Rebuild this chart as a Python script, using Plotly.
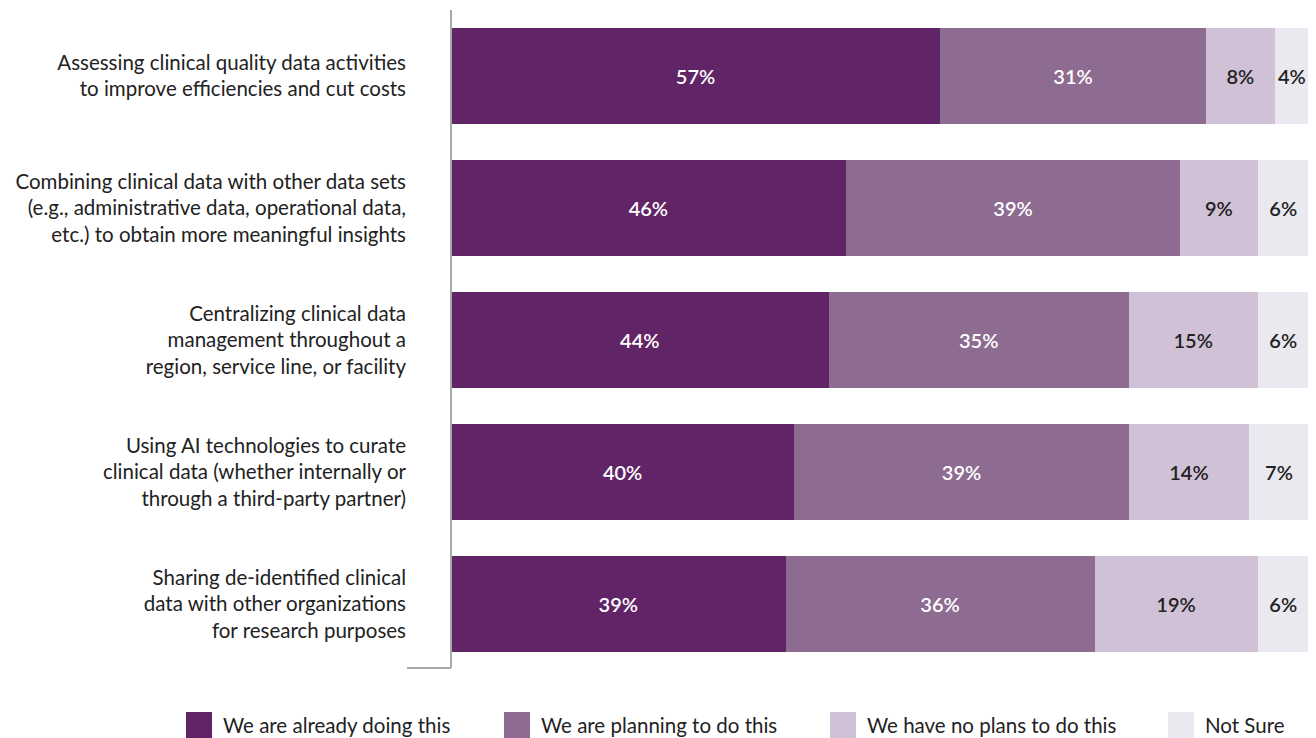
import plotly.graph_objects as go

categories = [
    "Assessing clinical quality data activities<br>to improve efficiencies and cut costs",
    "Combining clinical data with other data sets<br>(e.g., administrative data, operational data,<br>etc.) to obtain more meaningful insights",
    "Centralizing clinical data<br>management throughout a<br>region, service line, or facility",
    "Using AI technologies to curate<br>clinical data (whether internally or<br>through a third-party partner)",
    "Sharing de-identified clinical<br>data with other organizations<br>for research purposes",
]
series_names = [
    "We are already doing this",
    "We are planning to do this",
    "We have no plans to do this",
    "Not Sure",
]
already = [57, 46, 44, 40, 39]
planning = [31, 39, 35, 39, 36]
no_plans = [8, 9, 15, 14, 19]
not_sure = [4, 6, 6, 7, 6]

values = [already, planning, no_plans, not_sure]
colors = ["#612466", "#8e6b91", "#d1c1d6", "#ebe9f0"]
text_colors = ["#ffffff", "#ffffff", "#222222", "#222222"]

FONT = "Source Sans Pro, Lato, Noto Sans, sans-serif"

# page renders the figure with an 8px body margin -> work in shifted coords
OFF = 8
W, H = 1316 - OFF, 738 - OFF
L, R, T, B = 451 - OFF, 7, 10 - OFF, 68
PW, PH = W - L - R, H - T - B

def px_x(p):
    return (p - OFF - L) / PW

def px_y(p):
    return (H - B - (p - OFF)) / PH

fig = go.Figure()
for name, vals, col, tcol in zip(series_names, values, colors, text_colors):
    fig.add_trace(go.Bar(
        y=categories, x=vals, name=name, orientation="h",
        marker=dict(color=col, line=dict(width=0)),
        text=[f"{v}%" for v in vals],
        textposition="inside", insidetextanchor="middle",
        constraintext="none",
        textfont=dict(color=tcol, size=20, family=FONT, weight=600),
        showlegend=False, hoverinfo="skip",
    ))

shapes = [
    dict(type="line", xref="paper", yref="paper", x0=0, x1=0, y0=px_y(668), y1=px_y(10),
         line=dict(color="#a8a8a8", width=2)),
    dict(type="line", xref="paper", yref="paper", x0=px_x(407), x1=0, y0=px_y(668), y1=px_y(668),
         line=dict(color="#a8a8a8", width=2)),
]
annotations = []
legend_x = [186, 504, 830, 1168]
for name, col, lx in zip(series_names, colors, legend_x):
    shapes.append(dict(type="rect", xref="paper", yref="paper",
                       x0=px_x(lx), x1=px_x(lx + 26), y0=px_y(738), y1=px_y(712),
                       fillcolor=col, line=dict(width=0)))
    annotations.append(dict(xref="paper", yref="paper", x=px_x(lx + 35), y=px_y(725),
                            text=name, showarrow=False, xanchor="left", yanchor="middle",
                            font=dict(size=20.5, color="#222222", family=FONT)))

fig.update_layout(
    barmode="stack",
    bargap=0.28,
    width=W, height=H,
    margin=dict(l=L, r=R, t=T, b=B, autoexpand=False),
    plot_bgcolor="white", paper_bgcolor="white",
    font=dict(family=FONT, color="#222222"),
    xaxis=dict(range=[0, 100], visible=False),
    yaxis=dict(autorange="reversed", showline=False, showgrid=False, ticks="",
               ticklabelstandoff=44, tickfont=dict(size=20.5, color="#222222", family=FONT)),
    shapes=shapes,
    annotations=annotations,
    showlegend=False,
)

fig.write_html("out.html")
